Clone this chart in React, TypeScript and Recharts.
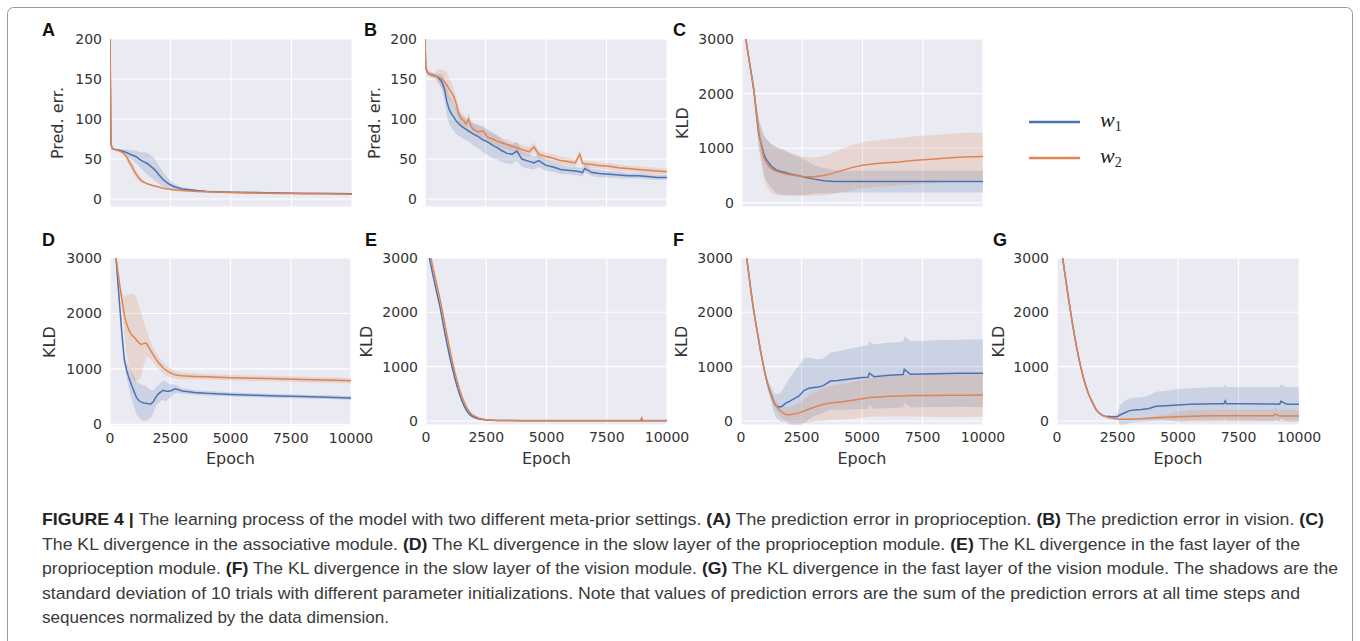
import React from 'react';
import { ComposedChart, Line, Area, XAxis, YAxis, CartesianGrid } from 'recharts';

const BLUE = '#4C72B0';
const ORANGE = '#DD8452';

const epochTicks = [0, 2500, 5000, 7500, 10000];
const predErrTicks = [0, 50, 100, 150, 200];
const kldTicks = [0, 1000, 2000, 3000];
const seriesNames = ['w', 'w'];
const seriesSubs = ['1', '2'];

// ---------- Panel A : prediction error, proprioception ----------
const aEpoch = [0, 40, 100, 200, 300, 400, 500, 600, 700, 800, 900, 1000, 1100, 1200, 1300, 1400, 1500, 1600, 1700, 1800, 1900, 2000, 2200, 2400, 2600, 2800, 3000, 3300, 3600, 4000, 5000, 6000, 7000, 8000, 9000, 10000];
const aW1 = [200, 68, 63, 62, 61.5, 61, 60, 59, 58, 56.5, 55, 54, 52.5, 50, 48, 46.5, 45, 43, 40.5, 38, 35, 31, 24, 19.5, 16, 14, 12.5, 11.5, 10.5, 9.5, 8.5, 8, 7.5, 7, 7, 6.5];
const aW1Sd = [0, 1, 1, 1, 1, 1.5, 2, 3, 4, 5, 6, 7, 8, 9, 10.5, 12, 13, 14, 14, 14, 13, 12, 9, 6, 4, 2.5, 2, 1.5, 1, 1, 1, 1, 1, 1, 1, 1];
const aW2 = [200, 68, 63, 62, 61, 60, 58.5, 56, 52, 46, 41, 35, 30, 26, 23, 21, 19.5, 18.5, 17.5, 16.5, 16, 15, 13.5, 12.5, 11.5, 11, 10.5, 10, 9.5, 9, 8, 7.5, 7, 7, 6.5, 6];
const aW2Sd = [0, 1, 1, 1, 1, 1, 1.5, 2.5, 4, 5, 5.5, 5.5, 5, 4, 3, 2, 1.5, 1, 1, 1, 1, 1, 1, 1, 1, 1, 1, 1, 1, 1, 1, 1, 1, 1, 1, 1];

// ---------- Panel B : prediction error, vision ----------
const bEpoch = [0, 30, 100, 200, 300, 400, 500, 600, 700, 800, 900, 1000, 1100, 1200, 1300, 1400, 1500, 1600, 1700, 1800, 1900, 2000, 2200, 2400, 2600, 2800, 3000, 3200, 3400, 3600, 3800, 4000, 4300, 4500, 4700, 5000, 5300, 5600, 5900, 6200, 6400, 6500, 6600, 6900, 7200, 7600, 8000, 8400, 8800, 9200, 9600, 10000];
const bW1 = [200, 165, 158, 156, 155, 154, 153, 150, 146, 138, 122, 112, 106, 102, 97, 94, 91, 89, 87, 85, 83, 81, 78, 74, 71, 67, 64, 60, 57, 56, 60, 50, 47, 45, 48, 42, 40, 37, 36, 35, 34, 33, 38, 33, 32, 31, 30, 29, 29, 28, 27, 27];
const bW1Sd = [0, 3, 3, 3, 3, 3, 4, 6, 10, 14, 17, 18, 18, 17, 16, 15, 14, 14, 13, 13, 13, 14, 15, 16, 16, 16, 15, 14, 13, 12, 12, 10, 9, 8, 8, 7, 6, 6, 5, 5, 5, 5, 5, 4.5, 4.5, 4, 4, 3.5, 3.5, 3.5, 3, 3];
const bW2 = [200, 165, 158, 156, 155, 154, 153, 152, 150, 147, 143, 137, 133, 127, 118, 106, 100, 98, 94, 100, 91, 87, 84, 85, 77, 75, 72, 70, 68, 66, 64, 62, 59, 65, 56, 53, 51, 48, 47, 45, 56, 45, 44, 43, 42, 41, 39, 38, 37, 36, 35, 34];
const bW2Sd = [0, 3, 3, 3, 3, 3, 8, 10, 12, 14, 15, 14, 12, 10, 9, 8, 8, 7, 7, 7, 7, 7, 7, 7, 7, 7, 7, 6, 6, 6, 6, 6, 6, 6, 5, 5, 5, 5, 5, 5, 5, 4, 4, 4, 4, 4, 4, 4, 4, 4, 4, 4];

// ---------- Panel C : KLD, associative module ----------
const cEpoch = [0, 100, 200, 300, 400, 500, 600, 700, 800, 900, 1000, 1200, 1400, 1600, 1800, 2000, 2300, 2600, 3000, 3400, 3800, 4200, 4600, 5000, 5500, 6000, 6500, 7000, 7500, 8000, 8500, 9000, 9500, 10000];
const cW1 = [3500, 3200, 2880, 2600, 2330, 2030, 1620, 1250, 1080, 900, 800, 680, 610, 575, 555, 530, 500, 470, 435, 405, 392, 390, 390, 390, 390, 390, 390, 390, 390, 390, 390, 390, 390, 390];
const cW1Sd = [20, 20, 30, 40, 50, 80, 150, 250, 300, 350, 380, 400, 420, 420, 410, 390, 360, 320, 260, 230, 210, 200, 200, 200, 200, 200, 200, 200, 200, 200, 200, 200, 200, 200];
const cW2 = [3500, 3200, 2880, 2600, 2330, 2050, 1650, 1300, 1050, 830, 740, 630, 585, 555, 535, 515, 495, 480, 480, 500, 545, 600, 650, 690, 715, 735, 750, 770, 790, 805, 820, 835, 845, 850];
const cW2Sd = [20, 20, 30, 40, 50, 80, 150, 250, 300, 380, 420, 450, 440, 420, 400, 380, 370, 360, 350, 360, 380, 400, 410, 420, 425, 430, 435, 440, 440, 440, 440, 440, 440, 430];

// ---------- Panel D : KLD, slow layer, proprioception ----------
const dEpoch = [0, 100, 200, 300, 400, 500, 600, 700, 800, 900, 1000, 1100, 1200, 1300, 1400, 1500, 1600, 1700, 1800, 1900, 2000, 2100, 2200, 2300, 2400, 2500, 2600, 2700, 2800, 3000, 3500, 4000, 5000, 6000, 7000, 8000, 9000, 10000];
const dW1 = [4400, 3950, 3300, 2720, 2150, 1600, 1150, 960, 820, 700, 590, 480, 430, 400, 385, 380, 372, 368, 410, 490, 545, 580, 615, 600, 595, 600, 620, 640, 630, 600, 575, 560, 540, 525, 510, 500, 490, 475];
const dW1Sd = [30, 30, 30, 30, 30, 40, 80, 150, 200, 250, 280, 300, 310, 320, 320, 310, 280, 250, 200, 170, 160, 165, 170, 180, 150, 120, 100, 80, 70, 50, 45, 40, 40, 35, 35, 35, 35, 35];
const dW2 = [3750, 3450, 3150, 2850, 2520, 2230, 1960, 1790, 1690, 1610, 1570, 1520, 1470, 1440, 1460, 1465, 1400, 1320, 1250, 1180, 1120, 1070, 1020, 985, 955, 930, 910, 895, 885, 875, 865, 858, 840, 830, 822, 810, 800, 785];
const dW2Sd = [30, 30, 30, 30, 30, 150, 350, 550, 650, 750, 780, 740, 680, 560, 380, 260, 190, 150, 130, 120, 110, 105, 100, 95, 90, 85, 80, 75, 70, 60, 55, 50, 50, 50, 50, 50, 50, 50];

// ---------- Panel E : KLD, fast layer, proprioception ----------
const eEpoch = [0, 100, 200, 300, 400, 500, 600, 700, 800, 900, 1000, 1100, 1200, 1300, 1400, 1500, 1600, 1700, 1800, 1900, 2000, 2200, 2500, 3000, 4000, 5000, 6000, 7000, 8000, 8900, 8950, 9000, 10000];
const eW1 = [3300, 3080, 2870, 2660, 2460, 2260, 2060, 1810, 1580, 1360, 1150, 960, 780, 620, 480, 360, 260, 180, 125, 90, 65, 35, 15, 8, 5, 5, 5, 5, 5, 5, 5, 5, 5];
const eW1Sd = [20, 20, 20, 20, 20, 20, 20, 20, 20, 20, 20, 20, 20, 20, 20, 20, 20, 20, 20, 20, 20, 10, 5, 3, 2, 2, 2, 2, 2, 2, 2, 2, 2];
const eW2 = [3450, 3230, 3010, 2800, 2600, 2400, 2200, 1980, 1740, 1510, 1290, 1080, 890, 720, 570, 440, 330, 240, 170, 120, 90, 50, 22, 10, 6, 6, 6, 6, 6, 6, 55, 6, 6];
const eW2Sd = [20, 20, 20, 20, 20, 20, 20, 20, 20, 20, 20, 20, 20, 20, 20, 20, 20, 20, 20, 20, 20, 10, 5, 3, 2, 2, 2, 2, 2, 2, 2, 2, 2];

// ---------- Panel F : KLD, slow layer, vision ----------
const fEpoch = [0, 100, 200, 300, 400, 500, 600, 700, 800, 900, 1000, 1100, 1200, 1300, 1400, 1500, 1600, 1700, 1800, 1900, 2000, 2200, 2400, 2600, 2800, 3000, 3200, 3400, 3700, 4000, 4500, 5000, 5250, 5300, 5500, 6000, 6500, 6700, 6750, 7000, 7500, 8000, 8500, 9000, 9500, 10000];
const fW1 = [3750, 3450, 3110, 2780, 2430, 2110, 1830, 1570, 1310, 1080, 860, 680, 540, 420, 300, 265, 255, 270, 310, 340, 360, 410, 460, 560, 600, 615, 625, 650, 735, 745, 770, 800, 805, 880, 815, 835, 850, 855, 950, 860, 865, 870, 875, 878, 878, 878];
const fW1Sd = [20, 20, 20, 20, 20, 20, 20, 20, 20, 20, 50, 80, 120, 160, 200, 230, 250, 290, 330, 370, 420, 500, 560, 600, 570, 530, 510, 500, 520, 540, 560, 580, 585, 585, 590, 600, 605, 607, 607, 610, 612, 615, 617, 618, 620, 620];
const fW2 = [3750, 3450, 3110, 2780, 2430, 2110, 1830, 1570, 1310, 1080, 860, 680, 530, 410, 320, 250, 195, 160, 130, 115, 112, 130, 150, 180, 215, 250, 280, 305, 330, 345, 370, 410, 425, 430, 438, 450, 460, 464, 465, 466, 468, 470, 472, 474, 475, 476];
const fW2Sd = [20, 20, 20, 20, 20, 20, 20, 20, 20, 20, 40, 50, 60, 70, 80, 90, 100, 110, 120, 130, 140, 160, 190, 220, 250, 270, 285, 300, 310, 320, 335, 350, 355, 355, 360, 370, 380, 383, 384, 385, 390, 395, 398, 400, 400, 400];

// ---------- Panel G : KLD, fast layer, vision ----------
const gEpoch = [0, 100, 200, 300, 400, 500, 600, 700, 800, 900, 1000, 1100, 1200, 1300, 1400, 1500, 1600, 1700, 1800, 1900, 2000, 2200, 2400, 2500, 2600, 2800, 3000, 3200, 3500, 3800, 4100, 4500, 5000, 5500, 6000, 6500, 6900, 6950, 7000, 7500, 8000, 8500, 8950, 9000, 9200, 9250, 9500, 10000];
const gW1 = [3800, 3440, 3110, 2790, 2480, 2190, 1900, 1630, 1380, 1160, 960, 780, 630, 500, 400, 310, 220, 165, 125, 100, 85, 80, 78, 80, 110, 150, 190, 200, 210, 230, 270, 280, 295, 305, 310, 315, 318, 370, 318, 318, 316, 312, 310, 310, 308, 360, 306, 305];
const gW1Sd = [15, 15, 15, 15, 15, 15, 15, 15, 15, 15, 15, 15, 15, 15, 15, 15, 15, 15, 15, 15, 15, 20, 30, 60, 180, 220, 225, 225, 225, 240, 265, 275, 290, 295, 300, 303, 305, 305, 305, 308, 310, 312, 314, 314, 315, 315, 315, 315];
const gW2 = [3800, 3440, 3110, 2790, 2480, 2190, 1900, 1630, 1380, 1160, 960, 780, 630, 500, 400, 310, 220, 165, 125, 100, 80, 55, 42, 36, 33, 30, 32, 35, 40, 50, 60, 68, 75, 85, 90, 95, 97, 97, 97, 96, 95, 94, 94, 130, 92, 92, 91, 90];
const gW2Sd = [15, 15, 15, 15, 15, 15, 15, 15, 15, 15, 15, 15, 15, 15, 15, 15, 15, 15, 15, 15, 15, 10, 10, 10, 10, 10, 10, 12, 15, 20, 30, 45, 100, 105, 108, 110, 110, 110, 110, 110, 110, 110, 110, 110, 110, 110, 110, 110];

function buildRows(epochs: number[], w1: number[], w1Sd: number[], w2: number[], w2Sd: number[]) {
  return epochs.map((e, i) => ({
    epoch: e,
    w1: w1[i],
    w1Band: [w1[i] - w1Sd[i], w1[i] + w1Sd[i]],
    w2: w2[i],
    w2Band: [w2[i] - w2Sd[i], w2[i] + w2Sd[i]],
  }));
}

type PanelCfg = {
  key: string;
  x: number; y: number; w: number; h: number;
  yDomain: [number, number];
  yTicks: number[];
  yLabel: string;
  labelX: number;
  letterX: number;
  showX: boolean;
  rows: any[];
};

const panels: PanelCfg[] = [
  { key: 'A', x: 110, y: 39, w: 242, h: 168, yDomain: [-10, 200], yTicks: predErrTicks, yLabel: 'Pred. err.', labelX: 57, letterX: 42, showX: false, rows: buildRows(aEpoch, aW1, aW1Sd, aW2, aW2Sd) },
  { key: 'B', x: 425, y: 39, w: 242, h: 168, yDomain: [-10, 200], yTicks: predErrTicks, yLabel: 'Pred. err.', labelX: 374, letterX: 364, showX: false, rows: buildRows(bEpoch, bW1, bW1Sd, bW2, bW2Sd) },
  { key: 'C', x: 742, y: 39, w: 241, h: 168, yDomain: [-75, 3000], yTicks: kldTicks, yLabel: 'KLD', labelX: 682, letterX: 673, showX: false, rows: buildRows(cEpoch, cW1, cW1Sd, cW2, cW2Sd) },
  { key: 'D', x: 110, y: 258, w: 241, h: 168, yDomain: [-30, 3000], yTicks: kldTicks, yLabel: 'KLD', labelX: 49, letterX: 42, showX: true, rows: buildRows(dEpoch, dW1, dW1Sd, dW2, dW2Sd) },
  { key: 'E', x: 426, y: 258, w: 241, h: 167, yDomain: [-75, 3000], yTicks: kldTicks, yLabel: 'KLD', labelX: 366, letterX: 365, showX: true, rows: buildRows(eEpoch, eW1, eW1Sd, eW2, eW2Sd) },
  { key: 'F', x: 741, y: 258, w: 242, h: 167, yDomain: [-75, 3000], yTicks: kldTicks, yLabel: 'KLD', labelX: 681, letterX: 673, showX: true, rows: buildRows(fEpoch, fW1, fW1Sd, fW2, fW2Sd) },
  { key: 'G', x: 1057, y: 258, w: 242, h: 167, yDomain: [-75, 3000], yTicks: kldTicks, yLabel: 'KLD', labelX: 998, letterX: 993, showX: true, rows: buildRows(gEpoch, gW1, gW1Sd, gW2, gW2Sd) },
];

const Y_W = 50;
const M_TOP = 14;
const M_RIGHT = 32;
const X_H = 34;
const TICK_STYLE = { fontSize: 14, fill: '#333', fontFamily: 'DejaVu Sans' };
const emptyTick = () => <g />;

function Panel({ cfg }: { cfg: PanelCfg }) {
  const width = Y_W + cfg.w + M_RIGHT;
  const height = M_TOP + cfg.h + X_H;
  return (
    <div style={{ position: 'absolute', left: cfg.x - Y_W, top: cfg.y - M_TOP }}>
      <ComposedChart width={width} height={height} data={cfg.rows} margin={{ top: M_TOP, right: M_RIGHT, bottom: 0, left: 0 }} style={{ overflow: 'visible' }}>
        <CartesianGrid fill="#EAEAF2" fillOpacity={1} stroke="#ffffff" strokeWidth={1.1} />
        <XAxis dataKey="epoch" type="number" domain={[0, 10000]} ticks={epochTicks} allowDataOverflow interval={0} height={X_H} axisLine={false} tickLine={false} tickSize={0} tickMargin={7} tick={cfg.showX ? TICK_STYLE : emptyTick} />
        <YAxis type="number" domain={cfg.yDomain} ticks={cfg.yTicks} allowDataOverflow interval={0} width={Y_W} axisLine={false} tickLine={false} tickSize={0} tickMargin={8} tick={TICK_STYLE} />
        <Area type="linear" dataKey="w1Band" fill={BLUE} fillOpacity={0.2} stroke="none" isAnimationActive={false} />
        <Line type="linear" dataKey="w1" stroke={BLUE} strokeWidth={1.5} dot={false} isAnimationActive={false} />
        <Area type="linear" dataKey="w2Band" fill={ORANGE} fillOpacity={0.2} stroke="none" isAnimationActive={false} />
        <Line type="linear" dataKey="w2" stroke={ORANGE} strokeWidth={1.5} dot={false} isAnimationActive={false} />
      </ComposedChart>
    </div>
  );
}

const captionLines: { parts: { t: string; b?: boolean }[]; len: number }[] = [
  { parts: [{ t: 'FIGURE 4 | ', b: true }, { t: 'The learning process of the model with two different meta-prior settings. ' }, { t: '(A)', b: true }, { t: ' The prediction error in proprioception. ' }, { t: '(B)', b: true }, { t: ' The prediction error in vision. ' }, { t: '(C)', b: true }], len: 1282 },
  { parts: [{ t: 'The KL divergence in the associative module. ' }, { t: '(D)', b: true }, { t: ' The KL divergence in the slow layer of the proprioception module. ' }, { t: '(E)', b: true }, { t: ' The KL divergence in the fast layer of the' }], len: 1258 },
  { parts: [{ t: 'proprioception module. ' }, { t: '(F)', b: true }, { t: ' The KL divergence in the slow layer of the vision module. ' }, { t: '(G)', b: true }, { t: ' The KL divergence in the fast layer of the vision module. The shadows are the' }], len: 1296 },
  { parts: [{ t: 'standard deviation of 10 trials with different parameter initializations. Note that values of prediction errors are the sum of the prediction errors at all time steps and' }], len: 1258 },
  { parts: [{ t: 'sequences normalized by the data dimension.' }], len: 347 },
];

export default function App() {
  return (
    <div style={{ position: 'absolute', left: 0, top: 0, width: 1360, height: 641, background: '#ffffff', overflow: 'hidden' }}>
      {panels.map((p) => (
        <Panel key={p.key} cfg={p} />
      ))}
      <svg width={1360} height={641} style={{ position: 'absolute', left: 0, top: 0, pointerEvents: 'none' }}>
        <rect x={7.5} y={7.5} width={1345} height={660} rx={6} fill="none" stroke="#9a9a9a" strokeWidth={1} />
        {panels.map((p) => (
          <g key={p.key}>
            <text x={p.letterX} y={p.y < 100 ? 36 : 246} fontFamily="Liberation Sans, Arial" fontWeight="bold" fontSize={18} fill="#111">{p.key}</text>
            <text x={p.labelX} y={p.y + p.h / 2} transform={`rotate(-90 ${p.labelX} ${p.y + p.h / 2})`} textAnchor="middle" dominantBaseline="central" fontFamily="DejaVu Sans" fontSize={16} fill="#333">{p.yLabel}</text>
            {p.showX && (
              <text x={p.x + p.w / 2} y={458} textAnchor="middle" dominantBaseline="central" fontFamily="DejaVu Sans" fontSize={16} fill="#333">Epoch</text>
            )}
          </g>
        ))}
        {[BLUE, ORANGE].map((c, i) => (
          <g key={c}>
            <line x1={1029} x2={1080} y1={122 + i * 36} y2={122 + i * 36} stroke={c} strokeWidth={2.5} />
            <text x={1100} y={127 + i * 36} fontFamily="Liberation Serif, DejaVu Serif" fontStyle="italic" fontSize={22} fill="#222">
              {seriesNames[i]}
              <tspan fontStyle="normal" fontSize={14} dy={4}>{seriesSubs[i]}</tspan>
            </text>
          </g>
        ))}
        {captionLines.map((ln, i) => (
          <text key={i} x={42} y={525 + i * 24.6} textLength={ln.len} lengthAdjust="spacingAndGlyphs" fontFamily="'Liberation Sans Narrow', 'Liberation Sans', Arial" fontSize={17} fill="#3a3a3a">
            {ln.parts.map((pt, j) => (
              <tspan key={j} fontWeight={pt.b ? 'bold' : 'normal'} fill={pt.b ? '#222' : '#3a3a3a'}>{pt.t}</tspan>
            ))}
          </text>
        ))}
      </svg>
    </div>
  );
}
